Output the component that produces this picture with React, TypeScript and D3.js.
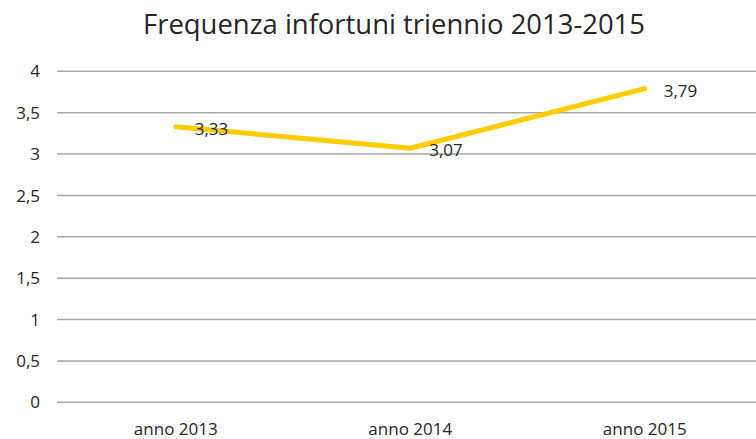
import React from 'react';
import * as d3 from 'd3';

// chart values
const categories = ['anno 2013', 'anno 2014', 'anno 2015'];
const values = [3.33, 3.07, 3.79];
const valueLabels = ['3,33', '3,07', '3,79'];
const yTicks = [0, 0.5, 1, 1.5, 2, 2.5, 3, 3.5, 4];
const title = 'Frequenza infortuni triennio 2013-2015';

const W = 756;
const H = 439;
const font = "'Open Sans', sans-serif";

const fmt = (v: number) => String(v).replace('.', ',');

const App = () => {
	const margin = { top: 71.3, bottom: 36.7, left: 57, right: -6 };

	const x = d3.scaleBand<string>()
		.domain(categories)
		.range([margin.left + 1.5, W - margin.right]);

	const y = d3.scaleLinear()
		.domain([0, 4])
		.range([H - margin.bottom, margin.top]);

	const cx = (c: string) => (x(c) as number) + x.bandwidth() / 2;

	const line = d3.line<number>()
		.x((_, i) => cx(categories[i]))
		.y((d) => y(d));

	return (
		<svg
			width={W}
			height={H}
			style={{ position: 'absolute', left: 0, top: 0, background: '#fff' }}
		>
			<text
				x={394}
				y={34}
				textAnchor="middle"
				fontFamily={font}
				fontSize={27}
				fill="#262626"
				textLength={502}
				lengthAdjust="spacingAndGlyphs"
			>
				{title}
			</text>

			{/* gridlines + y labels */}
			{yTicks.map((t) => (
				<g key={t}>
					<line
						x1={margin.left}
						x2={W}
						y1={y(t)}
						y2={y(t)}
						stroke="#a6a6a6"
						strokeWidth={1.5}
					/>
					<text
						x={40}
						y={y(t)}
						dy="0.36em"
						textAnchor="end"
						fontFamily={font}
						fontSize={17}
						fill="#262626"
					>
						{fmt(t)}
					</text>
				</g>
			))}

			{/* x labels */}
			{categories.map((c) => (
				<text
					key={c}
					x={cx(c)}
					y={435}
					textAnchor="middle"
					fontFamily={font}
					fontSize={17}
					fill="#262626"
				>
					{c}
				</text>
			))}

			<path
				d={line(values) || ''}
				fill="none"
				stroke="#FFCC00"
				strokeWidth={5}
				strokeLinecap="round"
				strokeLinejoin="round"
			/>

			{/* data labels */}
			{values.map((v, i) => (
				<text
					key={i}
					x={cx(categories[i]) + 19}
					y={y(v) + 2}
					dy="0.36em"
					fontFamily={font}
					fontSize={17}
					fill="#262626"
				>
					{valueLabels[i]}
				</text>
			))}
		</svg>
	);
};

export default App;
